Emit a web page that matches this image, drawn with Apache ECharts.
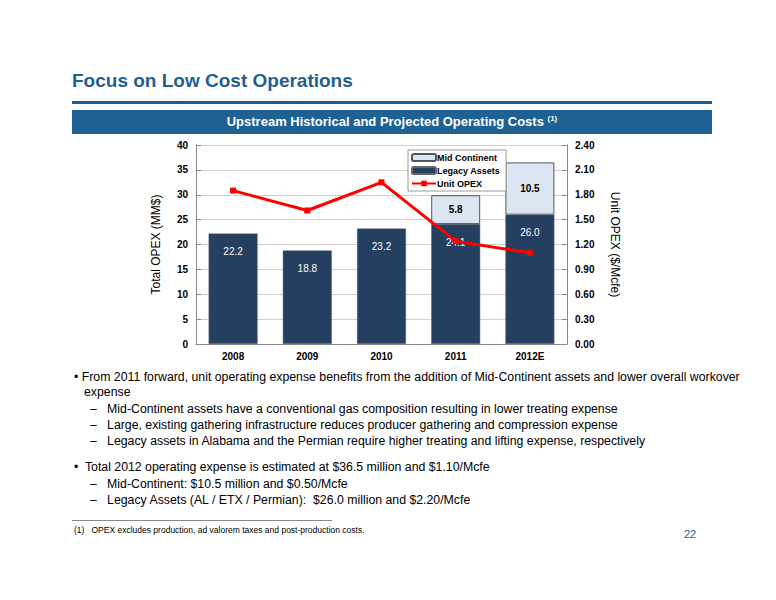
<!DOCTYPE html>
<html><head><meta charset="utf-8">
<script src="https://cdn.jsdelivr.net/npm/echarts@6/dist/echarts.min.js"></script>
<style>
body{margin:0;background:#fff;font-family:"Liberation Sans",Arial,sans-serif;}
#wrap{position:relative;width:776px;height:600px;overflow:hidden;}
#chart{position:absolute;left:0;top:0;width:776px;height:600px;}
.t{position:absolute;white-space:nowrap;color:#000;font-size:12.3px;}
</style></head><body>
<div id="wrap">
<div class="t" style="left:72px;top:70px;font-size:19px;font-weight:bold;color:#1f5f8f;">Focus on Low Cost Operations</div>
<div style="position:absolute;left:72px;top:101px;width:640px;height:3px;background:#1f5f8f;"></div>
<div style="position:absolute;left:72px;top:110px;width:640px;height:24px;background:#1f6192;"></div>
<div class="t" style="left:72px;top:114px;width:640px;text-align:center;color:#fff;font-weight:bold;font-size:13px;">Upstream Historical and Projected Operating Costs <sup style="font-size:8px">(1)</sup></div>
<div id="chart"></div>
<div class="t" style="left:74px;top:370px;">• From 2011 forward, unit operating expense benefits from the addition of Mid-Continent assets and lower overall workover</div>
<div class="t" style="left:84px;top:385px;">expense</div>
<div class="t" style="left:90px;top:402px;">–&nbsp;&nbsp; Mid-Continent assets have a conventional gas composition resulting in lower treating expense</div>
<div class="t" style="left:90px;top:418px;">–&nbsp;&nbsp; Large, existing gathering infrastructure reduces producer gathering and compression expense</div>
<div class="t" style="left:90px;top:434px;">–&nbsp;&nbsp; Legacy assets in Alabama and the Permian require higher treating and lifting expense, respectively</div>
<div class="t" style="left:74px;top:460px;">•&nbsp; Total 2012 operating expense is estimated at $36.5 million and $1.10/Mcfe</div>
<div class="t" style="left:90px;top:477px;">–&nbsp;&nbsp; Mid-Continent: $10.5 million and $0.50/Mcfe</div>
<div class="t" style="left:90px;top:493px;">–&nbsp;&nbsp; Legacy Assets (AL / ETX / Permian):&nbsp; $26.0 million and $2.20/Mcfe</div>
<div style="position:absolute;left:72px;top:520px;width:260px;height:1px;background:#888;"></div>
<div class="t" style="left:74px;top:525px;font-size:8.5px;">(1)&nbsp;&nbsp; OPEX excludes production, ad valorem taxes and post-production costs.</div>
<div class="t" style="left:684px;top:528px;font-size:11px;color:#1f6192;">22</div>
</div>
<script>
var years = ['2008', '2009', '2010', '2011', '2012E'];
var legacy = [22.2, 18.8, 23.2, 24.1, 26.0];
var midCon = [null, null, null, 5.8, 10.5];
var unitOpex = [1.85, 1.61, 1.95, 1.24, 1.10];
var leftTicks = [0, 40, 5];
var rightTicks = [0, 2.4, 0.3];

var chart = echarts.init(document.getElementById('chart'), null, { renderer: 'svg' });
var axisText = { color: '#000', fontSize: 10, fontWeight: 'bold', fontFamily: 'Liberation Sans' };
chart.setOption({
  animation: false,
  grid: { left: 196, right: 209, top: 145, bottom: 256 },
  legend: {
    orient: 'vertical', left: 408, top: 150, itemGap: 4, itemWidth: 24, itemHeight: 7,
    backgroundColor: '#fff', borderColor: '#999', borderWidth: 1, padding: [3, 6, 3, 3],
    textStyle: { fontSize: 9, fontWeight: 'bold', color: '#000', padding: [0, 0, 0, -4] },
    data: ['Mid Continent', 'Legacy Assets', 'Unit OPEX']
  },
  xAxis: {
    type: 'category', data: years,
    axisLine: { lineStyle: { color: '#888' } }, axisTick: { show: false },
    axisLabel: Object.assign({ margin: 7 }, axisText)
  },
  yAxis: [{
    type: 'value', min: leftTicks[0], max: leftTicks[1], interval: leftTicks[2],
    name: 'Total OPEX (MM$)', nameLocation: 'middle', nameGap: 34,
    nameTextStyle: { fontSize: 12, color: '#000' },
    axisLine: { show: true, lineStyle: { color: '#888' } }, axisTick: { show: true, inside: true, lineStyle: { color: '#888' } },
    axisLabel: axisText,
    splitLine: { lineStyle: { color: '#d0d0d0' } }
  }, {
    type: 'value', min: rightTicks[0], max: rightTicks[1], interval: rightTicks[2],
    name: 'Unit OPEX ($/Mcfe)', nameLocation: 'middle', nameGap: 42, nameRotate: -90,
    nameTextStyle: { fontSize: 12, color: '#000' },
    axisLine: { show: true, lineStyle: { color: '#888' } }, axisTick: { show: true, inside: true, lineStyle: { color: '#888' } },
    axisLabel: Object.assign({ formatter: function (v) { return v.toFixed(2); } }, axisText),
    splitLine: { show: false }
  }],
  series: [{
    name: 'Legacy Assets', type: 'bar', stack: 'a', data: legacy, barWidth: '66%',
    itemStyle: { color: '#243f60', borderColor: '#666', borderWidth: 0.5 },
    label: { show: true, position: 'insideTop', distance: 13, color: '#fff', fontSize: 10, formatter: function (p) { return p.value.toFixed(1); } }
  }, {
    name: 'Mid Continent', type: 'bar', stack: 'a', data: midCon,
    itemStyle: { color: '#dce6f2', borderColor: '#555', borderWidth: 1 },
    label: { show: true, color: '#000', fontSize: 10, fontWeight: 'bold', formatter: function (p) { return p.value == null ? '' : p.value.toFixed(1); } }
  }, {
    name: 'Unit OPEX', type: 'line', yAxisIndex: 1, data: unitOpex,
    symbol: 'rect', symbolSize: 6, lineStyle: { color: '#ff0000', width: 3 },
    itemStyle: { color: '#ff0000' }, z: 5
  }]
});
</script>
</body></html>
